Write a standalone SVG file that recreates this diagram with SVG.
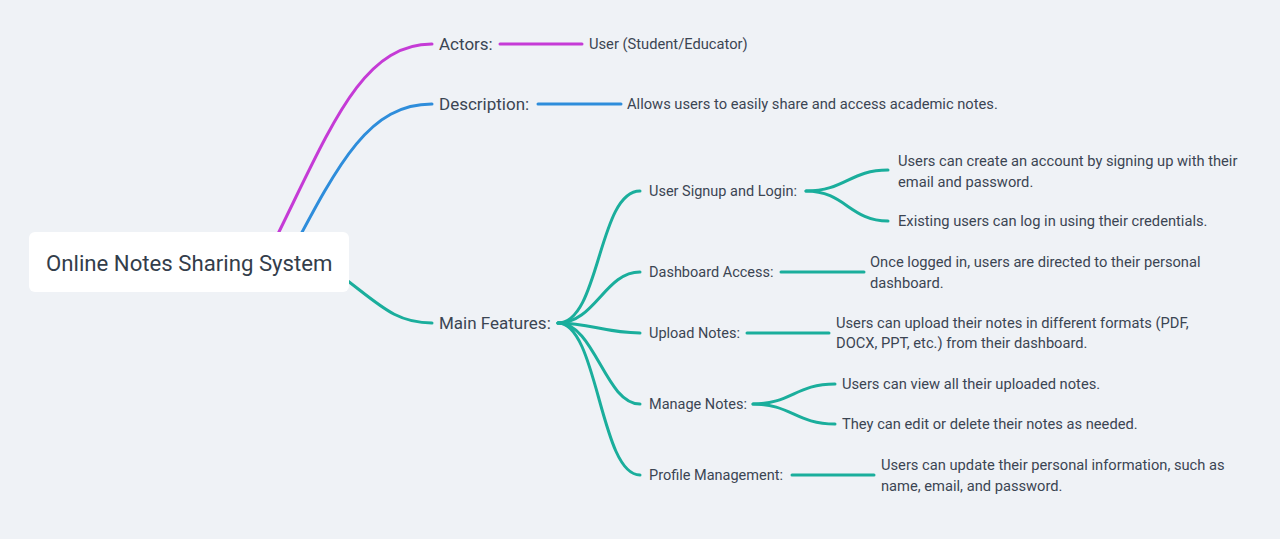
<svg xmlns="http://www.w3.org/2000/svg" width="1280" height="539" viewBox="0 0 1280 539">
<style>
.bg{fill:#eff2f6}
.link{fill:none;stroke-width:3;stroke-linecap:round}
.p{stroke:#c53bd6}
.b{stroke:#2e8ddb}
.t{stroke:#1aae9c}
text{font-family:Roboto,"Liberation Sans",sans-serif;fill:#3b4553}
.root{font-size:22.2px;fill:#333d4a}
.l1{font-size:17px}
.l2{font-size:14.5px}
.l3{font-size:14.7px}
</style>
<rect class="bg" x="0" y="0" width="1280" height="539"/>
<g id="connectors">
<path class="link p" d="M270,250 C330,130 360,44 432,44"/>
<path class="link p" d="M500,44 L582,44"/>
<path class="link b" d="M290,255 C340,160 370,104 432,104"/>
<path class="link b" d="M538,104 L621,104"/>
<path class="link t" d="M340,275 C380,305 395,323 432,323"/>
<path class="link t" d="M558,323 C600,323 598,191 640,191"/>
<path class="link t" d="M558,323 C595,323 605,272 640,272"/>
<path class="link t" d="M558,323 C590,323 605,333 640,333"/>
<path class="link t" d="M558,323 C595,323 605,404 640,404"/>
<path class="link t" d="M558,323 C598,323 600,475 640,475"/>
<path class="link t" d="M806,191 C845,191 850,170 888,170"/>
<path class="link t" d="M806,191 C845,191 850,221 888,221"/>
<path class="link t" d="M781,272 L864,272"/>
<path class="link t" d="M747,333 L829,333"/>
<path class="link t" d="M753,404 C791,404 796,384 835,384"/>
<path class="link t" d="M753,404 C791,404 796,424 835,424"/>
<path class="link t" d="M792,475 L874,475"/>
</g>
<g id="root">
<rect x="29" y="232" width="320" height="60" rx="6" fill="#ffffff"/>
<text class="root" x="46" y="271">Online Notes Sharing System</text>
</g>
<g id="actors"><text class="l1" x="439" y="50">Actors:</text></g>
<g id="actors-user"><text class="l3" x="589" y="49">User (Student/Educator)</text></g>
<g id="description"><text class="l1" x="439" y="110">Description:</text></g>
<g id="description-text"><text class="l3" x="627" y="109">Allows users to easily share and access academic notes.</text></g>
<g id="main-features"><text class="l1" x="439" y="329">Main Features:</text></g>
<g id="signup"><text class="l2" x="649" y="196">User Signup and Login:</text></g>
<g id="signup-1"><text class="l3" x="898" y="166">Users can create an account by signing up with their</text><text class="l3" x="898" y="187">email and password.</text></g>
<g id="signup-2"><text class="l3" x="898" y="226">Existing users can log in using their credentials.</text></g>
<g id="dashboard"><text class="l2" x="649" y="277">Dashboard Access:</text></g>
<g id="dashboard-1"><text class="l3" x="870" y="267">Once logged in, users are directed to their personal</text><text class="l3" x="870" y="288">dashboard.</text></g>
<g id="upload"><text class="l2" x="649" y="338">Upload Notes:</text></g>
<g id="upload-1"><text class="l3" x="836" y="328">Users can upload their notes in different formats (PDF,</text><text class="l3" x="836" y="348">DOCX, PPT, etc.) from their dashboard.</text></g>
<g id="manage"><text class="l2" x="649" y="409">Manage Notes:</text></g>
<g id="manage-1"><text class="l3" x="842" y="389">Users can view all their uploaded notes.</text></g>
<g id="manage-2"><text class="l3" x="842" y="429">They can edit or delete their notes as needed.</text></g>
<g id="profile"><text class="l2" x="649" y="480">Profile Management:</text></g>
<g id="profile-1"><text class="l3" x="881" y="470">Users can update their personal information, such as</text><text class="l3" x="881" y="491">name, email, and password.</text></g>
</svg>
